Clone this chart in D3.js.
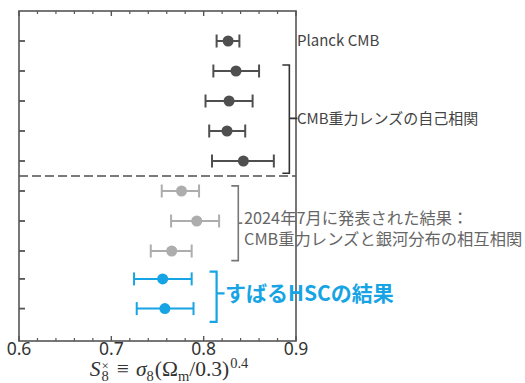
<!DOCTYPE html>
<html><head><meta charset="utf-8">
<script src="https://cdn.jsdelivr.net/npm/d3@7"></script>
<style>body{margin:0;background:#fff}svg{display:block}</style>
</head><body>
<svg id="c" width="525" height="383"></svg>
<script>
// ---- data ----
const rowPos   = [1, 2, 3, 4, 5, 6, 7, 8, 8.93, 9.92];
const centers  = [0.8265, 0.835, 0.8275, 0.8253, 0.843, 0.776, 0.7925, 0.7654, 0.7556, 0.758];
const lows     = [0.814, 0.8105, 0.802, 0.806, 0.809, 0.7546, 0.7647, 0.7427, 0.7246, 0.7275];
const highs    = [0.8387, 0.86, 0.853, 0.845, 0.876, 0.795, 0.8167, 0.787, 0.787, 0.789];
const groups   = ["cmb", "cmb", "cmb", "cmb", "cmb", "cross", "cross", "cross", "hsc", "hsc"];
const xTicks   = [0.6, 0.7, 0.8, 0.9];
const xTickLabels = ["0.6", "0.7", "0.8", "0.9"];
const separatorPos = 5.5;
// annotations: [x position (S8 units), yStart, yEnd, tick y]
const brackets = [
  {g: "cmb",   x: 0.8928, y0: 1.8,  y1: 5.41, ym: 3.58},
  {g: "cross", x: 0.8375, y0: 5.83, y1: 8.32, ym: 7.07},
  {g: "hsc",   x: 0.8140, y0: 8.69, y1: 10.36, ym: 9.41}
];
const colors = {cmb: "#4f4f4f", cross: "#adadad", hsc: "#17a4e4"};

const svg = d3.select("#c");
const x = d3.scaleLinear().domain([0.6, 0.9]).range([19, 296]);
const y = d3.scaleLinear().domain([0, 11]).range([11, 341]);
const L = 19, R = 296, T = 11, B = 341;

// minor ticks top & bottom
const minor = d3.range(0.62, 0.9, 0.02).filter(v => Math.abs(Math.round(v*10) - v*10) > 1e-6);
const axG = svg.append("g").attr("stroke", "#555");
minor.forEach(v => {
  axG.append("line").attr("x1", x(v)).attr("x2", x(v)).attr("y1", T).attr("y2", T+3).attr("stroke-width", 1.2);
  axG.append("line").attr("x1", x(v)).attr("x2", x(v)).attr("y1", B).attr("y2", B-3).attr("stroke-width", 1.2);
});
xTicks.forEach(v => {
  axG.append("line").attr("x1", x(v)).attr("x2", x(v)).attr("y1", T).attr("y2", T+5).attr("stroke-width", 1.4);
  axG.append("line").attr("x1", x(v)).attr("x2", x(v)).attr("y1", B).attr("y2", B-5).attr("stroke-width", 1.4);
});
// left ticks
rowPos.forEach(p => {
  axG.append("line").attr("x1", L).attr("x2", L+6).attr("y1", y(p)).attr("y2", y(p)).attr("stroke-width", 1.8);
});

// separator
svg.append("line").attr("x1", L).attr("x2", R).attr("y1", y(separatorPos)).attr("y2", y(separatorPos))
  .attr("stroke", "#7a7a7a").attr("stroke-width", 2).attr("stroke-dasharray", "9,4");

// error bars
const capH = 6.5;
rowPos.forEach((p, i) => {
  const c = colors[groups[i]];
  const g = svg.append("g").attr("stroke", c).attr("stroke-width", 2);
  g.append("line").attr("x1", x(lows[i])).attr("x2", x(highs[i])).attr("y1", y(p)).attr("y2", y(p));
  g.append("line").attr("x1", x(lows[i])).attr("x2", x(lows[i])).attr("y1", y(p)-capH).attr("y2", y(p)+capH);
  g.append("line").attr("x1", x(highs[i])).attr("x2", x(highs[i])).attr("y1", y(p)-capH).attr("y2", y(p)+capH);
  svg.append("circle").attr("cx", x(centers[i])).attr("cy", y(p)).attr("r", 5.5).attr("fill", c);
});

// frame
svg.append("rect").attr("x", L).attr("y", T).attr("width", R-L).attr("height", B-T)
  .attr("fill", "none").attr("stroke", "#555").attr("stroke-width", 1.6);

// x tick labels
xTicks.forEach((v, i) => {
  svg.append("text").attr("x", x(v)).attr("y", 355).attr("text-anchor", "middle")
    .attr("font-family", "Noto Sans, sans-serif").attr("font-size", 17.5).attr("fill", "#333")
    .text(xTickLabels[i]);
});

// brackets
const bColors = {cmb: "#333", cross: "#777", hsc: "#17a4e4"};
brackets.forEach(b => {
  const xx = x(b.x);
  svg.append("path")
    .attr("d", `M${xx-7},${y(b.y0)}H${xx}V${y(b.y1)}H${xx-7}M${xx},${y(b.ym)}H${xx+ (b.g==="hsc"?8:(b.g==="cross"?4:8))}`)
    .attr("fill", "none").attr("stroke", bColors[b.g]).attr("stroke-width", b.g==="hsc"?2.2:1.6);
});

// labels
const jp = "'Noto Sans CJK JP', 'Noto Sans', sans-serif";
svg.append("text").attr("x", 297).attr("y", y(1)).attr("dy", "0.35em").attr("font-family", jp)
  .attr("font-size", 15).attr("fill", "#444").text("Planck CMB");
svg.append("text").attr("x", 297).attr("y", y(3.58)).attr("dy", "0.35em").attr("font-family", jp)
  .attr("font-size", 15).attr("fill", "#444").text("CMB重力レンズの自己相関");
svg.append("text").attr("x", 244).attr("y", 218).attr("dy", "0.35em").attr("font-family", jp)
  .attr("font-size", 16.3).attr("fill", "#666").text("2024年7月に発表された結果：");
svg.append("text").attr("x", 244).attr("y", 239).attr("dy", "0.35em").attr("font-family", jp)
  .attr("font-size", 16.3).attr("fill", "#666").text("CMB重力レンズと銀河分布の相互相関");
svg.append("text").attr("x", 225).attr("y", y(9.41)).attr("dy", "0.35em").attr("font-family", jp)
  .attr("font-size", 21).attr("font-weight", "bold").attr("fill", "#17a4e4").text("すばるHSCの結果");

// x-axis label (math) as one text element
const M = 21.5, Sm = 14.5;
const lab = svg.append("text").attr("x", 169).attr("y", 376).attr("text-anchor", "middle")
  .attr("fill", "#333").attr("font-family", "'Liberation Serif', 'DejaVu Serif', serif").attr("font-size", M);
let cur = 0;
function ts(t, size, off, italic, dx = 0) {
  const s = lab.append("tspan").attr("font-size", size).attr("font-style", italic ? "italic" : "normal")
    .attr("dy", off - cur).attr("dx", dx).text(t);
  cur = off;
  return s;
}
ts("S", M, 0, true);
const t8 = ts("8", Sm, 4.5, false, 1);
const w8 = t8.node().getComputedTextLength();
const tx = ts("×", 13, -6.5, false, -w8);
const wx = tx.node().getComputedTextLength();
ts("≡", M, 0, false, 8 + Math.max(0, w8 - wx));
ts("σ", M, 0, true, 7);
ts("8", Sm, 4.5, false);
ts("(Ω", M, 0, false, 1);
ts("m", Sm, 4.5, false);
ts("/0.3)", M, 0, false);
ts("0.4", Sm, -8, false, 1);
</script>
</body></html>
